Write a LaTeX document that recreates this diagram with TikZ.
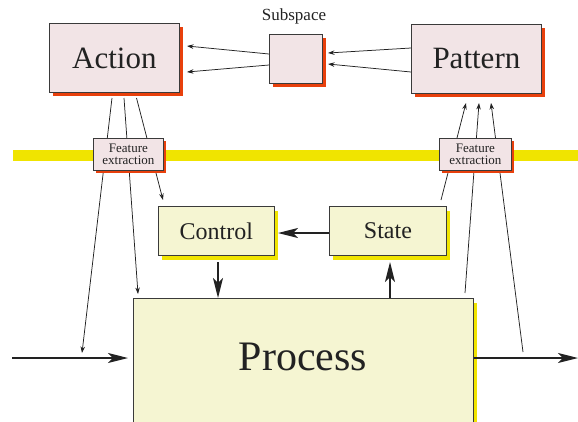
\documentclass[tikz,border=0pt]{standalone}
\usepackage{fontspec}
\setmainfont{Liberation Serif}
\usetikzlibrary{arrows.meta,shadows}
\definecolor{pinkfill}{HTML}{F2E4E6}
\definecolor{redshadow}{HTML}{E8400C}
\definecolor{yelfill}{HTML}{F5F5D2}
\definecolor{yelshadow}{HTML}{F0E400}
\definecolor{bandyel}{HTML}{F0E400}
\definecolor{edge}{HTML}{3A3A3A}
\definecolor{ink}{HTML}{222222}
\tikzset{
 pbox/.style={draw=edge, line width=0.8pt, fill=pinkfill, text=ink, inner sep=0pt, anchor=north west,
   drop shadow={fill=redshadow, opacity=1, shadow xshift=4pt, shadow yshift=-4pt}},
 fbox/.style={draw=edge, line width=0.8pt, fill=pinkfill, text=ink, inner sep=0pt, anchor=north west, align=center,
   font=\fontsize{13}{11.7}\selectfont,
   drop shadow={fill=redshadow, opacity=1, shadow xshift=3pt, shadow yshift=-3pt}},
 ybox/.style={draw=edge, line width=0.8pt, fill=yelfill, text=ink, inner sep=0pt, anchor=north west,
   drop shadow={fill=yelshadow, opacity=1, shadow xshift=4pt, shadow yshift=-5pt}},
 thinarrow/.style={draw=ink, line width=0.75pt, -{Stealth[length=6.5pt,width=4.5pt]}},
 thickarrow/.style={draw=ink, line width=1.8pt, -{Stealth[length=20pt,width=10pt,inset=5pt]}},
}
\begin{document}
\begin{tikzpicture}[x=1pt,y=-1pt]
\useasboundingbox (0,0) rectangle (578,421);
\clip (0,0) rectangle (578,421);
% band
\fill[bandyel] (13,150) rectangle (578,161);
% main boxes
\node[pbox, minimum width=130pt, minimum height=69pt, font=\fontsize{31}{31}\selectfont] (action) at (49,23) {Action};
\node[pbox, minimum width=130pt, minimum height=69pt, font=\fontsize{31}{31}\selectfont] (pattern) at (411,24) {Pattern};
\node[pbox, minimum width=53pt, minimum height=49pt] (subspace) at (269,34) {};
\node[text=ink, font=\fontsize{17}{17}\selectfont] (sublabel) at (294,16) {Subspace};
\node[ybox, minimum width=116pt, minimum height=49pt, font=\fontsize{24}{24}\selectfont] (control) at (158,206) {Control};
\node[ybox, minimum width=117pt, minimum height=49pt, font=\fontsize{24}{24}\selectfont] (state) at (329,206) {State};
\node[ybox, minimum width=340pt, minimum height=140pt] (process) at (133,298) {};
\node[text=ink, font=\fontsize{42}{42}\selectfont] (ptext) at (303,357) {Process};
% subspace arrows
\coordinate (s1) at (269,54); \coordinate (a1) at (187,46);
\coordinate (s2) at (269,65); \coordinate (a2) at (187,72);
\coordinate (p1) at (411,48); \coordinate (t1) at (328,53);
\coordinate (p2) at (411,72); \coordinate (t2) at (328,64);
\draw[thinarrow] (s1) -- (a1);
\draw[thinarrow] (s2) -- (a2);
\draw[thinarrow] (p1) -- (t1);
\draw[thinarrow] (p2) -- (t2);
% action lines
\coordinate (b1) at (112,98); \coordinate (e1) at (82,353);
\coordinate (b2) at (124,98); \coordinate (e2) at (138,294);
\coordinate (b3) at (136.5,98); \coordinate (e3) at (163,200);
\draw[thinarrow] (b1) -- (e1);
\draw[thinarrow] (b2) -- (e2);
\draw[thinarrow] (b3) -- (e3);
% pattern lines
\coordinate (r1) at (441,200); \coordinate (q1) at (466,103);
\coordinate (r2) at (465,293); \coordinate (q2) at (479,103);
\coordinate (r3) at (523,352); \coordinate (q3) at (491,103);
\draw[thinarrow] (r1) -- (q1);
\draw[thinarrow] (r2) -- (q2);
\draw[thinarrow] (r3) -- (q3);
% thick connectors
\coordinate (cs) at (218,262);
\coordinate (ss) at (390,262);
\coordinate (ce) at (278,233);
\draw[thickarrow] (cs) -- (cs |- process.north);
\draw[thickarrow] (process.north -| ss) -- (ss);
\draw[thickarrow] (state.west |- ce) -- (ce);
\coordinate (in) at (12,358);
\coordinate (inend) at (128,358);
\coordinate (out) at (578,358);
\draw[thickarrow] (in) -- (inend);
\draw[thickarrow] (out -| process.east) -- (out);
% feature boxes
\node[fbox, minimum width=70pt, minimum height=32pt] (fe1) at (93,138) {Feature\\extraction};
\node[fbox, minimum width=72pt, minimum height=32pt] (fe2) at (439,138) {Feature\\extraction};
\end{tikzpicture}
\end{document}
